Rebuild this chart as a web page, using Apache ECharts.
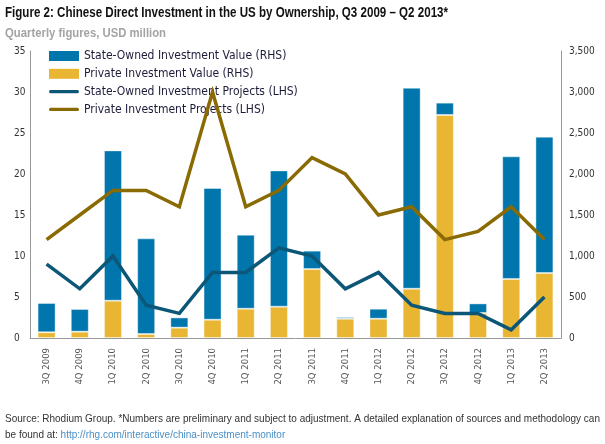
<!DOCTYPE html>
<html>
<head>
<meta charset="utf-8">
<script src="https://cdn.jsdelivr.net/npm/echarts@6/dist/echarts.min.js"></script>
<style>
html,body{margin:0;padding:0;background:#fff;}
#c{width:605px;height:444px;}
</style>
</head>
<body>
<div id="c"></div>
<script>
const categories = ['3Q 2009','4Q 2009','1Q 2010','2Q 2010','3Q 2010','4Q 2010','1Q 2011','2Q 2011','3Q 2011','4Q 2011','1Q 2012','2Q 2012','3Q 2012','4Q 2012','1Q 2013','2Q 2013'];
const stateValue = [357, 277, 1833, 1166, 125, 1606, 903, 1662, 224, 21, 122, 2451, 150, 117, 1495, 1662];
const privateValue = [70, 77, 455, 49, 126, 223, 357, 382, 841, 235, 235, 601, 2720, 305, 720, 793];
const stateProjects = [9, 6, 10, 4, 3, 8, 8, 11, 10, 6, 8, 4, 3, 3, 1, 5];
const privateProjects = [12, 15, 18, 18, 16, 30, 16, 18, 22, 20, 15, 16, 12, 13, 16, 12];
const leftTicks = [0, 35, 5];
const rightTicks = [0, 3500, 500];

const titleText = 'Figure 2: Chinese Direct Investment in the US by Ownership, Q3 2009 \u2013 Q2 2013*';
const subtitleText = 'Quarterly figures, USD million';
const footer1 = 'Source: Rhodium Group. *Numbers are preliminary and subject to adjustment. A detailed explanation of sources and methodology can';
const footer2a = 'be found at: ';
const footer2b = 'http://rhg.com/interactive/china-investment-monitor';

const FONT = '"Liberation Sans", "DejaVu Sans", sans-serif';
const COND = '"DejaVu Sans Condensed", "Liberation Sans", sans-serif';

function measure(text, font) {
  const c = document.createElement('canvas').getContext('2d');
  c.font = font;
  return c.measureText(text).width;
}
const titleFont = 'bold 15px ' + FONT;
const subFont = 'bold 13px ' + FONT;
const footFont = '11px ' + FONT;
const sTitle = 443 / measure(titleText, titleFont);
const sSub = 161 / measure(subtitleText, subFont);
const sFoot = 595 / measure(footer1, footFont);

// legend icon: thick line centred in a 30x10 box (tiny corner specks fix the bounding box)
const lineIcon = 'path://M0,0L0.01,0L0.01,0.01Z M1.5,3.4L28.5,3.4A1.6,1.6,0,0,1,28.5,6.6L1.5,6.6A1.6,1.6,0,0,1,1.5,3.4Z M30,10L29.99,10L29.99,9.99Z';

const chart = echarts.init(document.getElementById('c'), null, {renderer: 'canvas'});
chart.setOption({
  backgroundColor: '#fff',
  animation: false,
  textStyle: {fontFamily: FONT},
  graphic: [
    {type: 'text', x: 5, y: 13, scaleX: sTitle, silent: true,
     style: {text: titleText, font: titleFont, fill: '#111', verticalAlign: 'middle'}},
    {type: 'text', x: 5, y: 33, scaleX: sSub, silent: true,
     style: {text: subtitleText, font: subFont, fill: '#a3a3a3', verticalAlign: 'middle'}},
    {type: 'text', x: 5, y: 419, scaleX: sFoot, silent: true,
     style: {text: footer1, font: footFont, fill: '#333', verticalAlign: 'middle'}},
    {type: 'text', x: 5, y: 435, scaleX: sFoot, silent: true,
     style: {text: '{a|' + footer2a + '}{b|' + footer2b + '}', font: footFont, verticalAlign: 'middle',
       rich: {a: {font: footFont, fill: '#333'}, b: {font: footFont, fill: '#4a8fc6'}}}}
  ],
  legend: {
    orient: 'vertical', left: 44, top: 44,
    itemWidth: 30, itemHeight: 10, itemGap: 3.8,
    itemStyle: {borderWidth: 0},
    textStyle: {fontFamily: COND, fontSize: 12, color: '#1c1c3a', lineHeight: 14},
    data: [
      {name: 'State-Owned Investment Value (RHS)', icon: 'rect'},
      {name: 'Private Investment Value (RHS)', icon: 'rect'},
      {name: 'State-Owned Investment Projects (LHS)', icon: lineIcon, itemStyle: {color: '#0C5677'}},
      {name: 'Private Investment Projects (LHS)', icon: lineIcon, itemStyle: {color: '#8A6A02'}}
    ]
  },
  grid: {left: 30, right: 44, top: 51, bottom: 106, containLabel: false},
  xAxis: {
    type: 'category', data: categories, boundaryGap: true,
    axisLine: {lineStyle: {color: '#999', width: 1}},
    axisTick: {show: false},
    axisLabel: {rotate: 90, margin: 10, fontSize: 9.5, color: '#555', fontFamily: COND, interval: 0}
  },
  yAxis: [
    {type: 'value', min: leftTicks[0], max: leftTicks[1], interval: leftTicks[2], position: 'left',
     axisLine: {show: true, lineStyle: {color: '#999', width: 1}}, axisTick: {show: false}, splitLine: {show: false},
     axisLabel: {align: 'left', margin: 16, fontSize: 10, color: '#333', fontFamily: COND}},
    {type: 'value', min: rightTicks[0], max: rightTicks[1], interval: rightTicks[2], position: 'right',
     axisLine: {show: true, lineStyle: {color: '#999', width: 1}}, axisTick: {show: false}, splitLine: {show: false},
     axisLabel: {margin: 8, fontSize: 10, color: '#333', fontFamily: COND,
       formatter: v => v.toLocaleString('en-US')}}
  ],
  series: [
    {name: 'Private Investment Value (RHS)', type: 'bar', stack: 'v', yAxisIndex: 1, data: privateValue,
     barWidth: 18, itemStyle: {color: '#E8B632', borderColor: 'rgba(255,255,255,0.4)', borderWidth: 1}},
    {name: 'State-Owned Investment Value (RHS)', type: 'bar', stack: 'v', yAxisIndex: 1, data: stateValue,
     barWidth: 18, itemStyle: {color: '#0076AC', borderColor: 'rgba(255,255,255,0.4)', borderWidth: 1}},
    {name: 'State-Owned Investment Projects (LHS)', type: 'line', yAxisIndex: 0, data: stateProjects,
     symbol: 'none', lineStyle: {color: '#0C5677', width: 3.5, join: 'miter', cap: 'butt'}, itemStyle: {color: '#0C5677'}, z: 5},
    {name: 'Private Investment Projects (LHS)', type: 'line', yAxisIndex: 0, data: privateProjects,
     symbol: 'none', lineStyle: {color: '#8A6A02', width: 3.5, join: 'miter', cap: 'butt'}, itemStyle: {color: '#8A6A02'}, z: 5}
  ]
});
</script>
</body>
</html>
